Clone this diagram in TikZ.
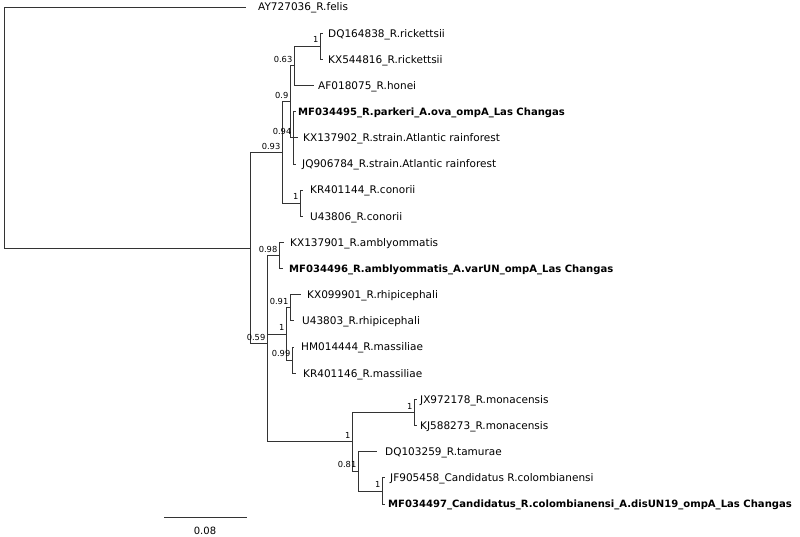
\documentclass[tikz,border=0pt]{standalone}
\usepackage{fontspec}
\setmainfont{DejaVu Sans}
\begin{document}
\begin{tikzpicture}[x=1pt,y=-1pt,
  br/.style={line width=1pt, draw=black!80, line cap=rect},
  tiplab/.style={anchor=base west, inner sep=0pt, yshift=-3.8pt, font=\fontsize{10.5}{12}\selectfont},
  tipbold/.style={tiplab, font=\fontsize{10.05}{12}\selectfont\bfseries},
  supp/.style={anchor=base east, inner sep=0pt, xshift=-1.5pt, yshift=3.5pt, font=\fontsize{8.3}{9}\selectfont}]
\useasboundingbox (0,0) rectangle (800,536);
% internal nodes
\coordinate (root) at (4,127.6);
\coordinate (nA) at (250,248.1);
\coordinate (n093) at (282,152.5);
\coordinate (n09) at (290,101.8);
\coordinate (n063) at (294,65.9);
\coordinate (nric) at (320,46.25);
\coordinate (n094) at (293,137.8);
\coordinate (ncon) at (300,203.2);
\coordinate (n059) at (267,343.8);
\coordinate (n098) at (279,255.5);
\coordinate (nrm) at (286,334);
\coordinate (n091) at (290,307.85);
\coordinate (n099) at (292,360.15);
\coordinate (nbig) at (352,441.9);
\coordinate (nmon) at (414,412.5);
\coordinate (n081) at (358,471.3);
\coordinate (ncol) at (382,491);
% tips
\coordinate (t1) at (245,7);
\coordinate (t2) at (322,33.2);
\coordinate (t3) at (322,59.3);
\coordinate (t4) at (313,85.5);
\coordinate (t5) at (295,111.6);
\coordinate (t6) at (297,137.8);
\coordinate (t7) at (295,164);
\coordinate (t8) at (302,190.1);
\coordinate (t9) at (302,216.3);
\coordinate (t10) at (283,242.4);
\coordinate (t11) at (282,268.6);
\coordinate (t12) at (300,294.8);
\coordinate (t13) at (293,320.9);
\coordinate (t14) at (293,347.1);
\coordinate (t15) at (295,373.2);
\coordinate (t16) at (416,399.4);
\coordinate (t17) at (416,425.6);
\coordinate (t18) at (376,451.7);
\coordinate (t19) at (384,477.9);
\coordinate (t20) at (384,504);
% branches
\draw[br] (root) |- (t1);
\draw[br] (root) |- (nA);
\draw[br] (nA) |- (n093);
\draw[br] (nA) |- (n059);
\draw[br] (n093) |- (n09);
\draw[br] (n093) |- (ncon);
\draw[br] (n09) |- (n063);
\draw[br] (n09) |- (n094);
\draw[br] (n063) |- (nric);
\draw[br] (n063) |- (t4);
\draw[br] (nric) |- (t2);
\draw[br] (nric) |- (t3);
\draw[br] (n094) |- (t5);
\draw[br] (n094) |- (t6);
\draw[br] (n094) |- (t7);
\draw[br] (ncon) |- (t8);
\draw[br] (ncon) |- (t9);
\draw[br] (n059) |- (n098);
\draw[br] (n059) |- (nrm);
\draw[br] (n059) |- (nbig);
\draw[br] (n098) |- (t10);
\draw[br] (n098) |- (t11);
\draw[br] (nrm) |- (n091);
\draw[br] (nrm) |- (n099);
\draw[br] (n091) |- (t12);
\draw[br] (n091) |- (t13);
\draw[br] (n099) |- (t14);
\draw[br] (n099) |- (t15);
\draw[br] (nbig) |- (nmon);
\draw[br] (nbig) |- (n081);
\draw[br] (nmon) |- (t16);
\draw[br] (nmon) |- (t17);
\draw[br] (n081) |- (t18);
\draw[br] (n081) |- (ncol);
\draw[br] (ncol) |- (t19);
\draw[br] (ncol) |- (t20);
% tip labels
\node[tiplab] (L1) at (258,7) {AY727036\_R.felis};
\node[tiplab] (L2) at (328,33.2) {DQ164838\_R.rickettsii};
\node[tiplab] (L3) at (328,59.3) {KX544816\_R.rickettsii};
\node[tiplab] (L4) at (318,85.5) {AF018075\_R.honei};
\node[tipbold] (L5) at (298,111.6) {MF034495\_R.parkeri\_A.ova\_ompA\_Las Changas};
\node[tiplab] (L6) at (303,137.8) {KX137902\_R.strain.Atlantic rainforest};
\node[tiplab] (L7) at (302,164) {JQ906784\_R.strain.Atlantic rainforest};
\node[tiplab] (L8) at (310,190.1) {KR401144\_R.conorii};
\node[tiplab] (L9) at (310,216.3) {U43806\_R.conorii};
\node[tiplab] (L10) at (290,242.4) {KX137901\_R.amblyommatis};
\node[tipbold] (L11) at (289,268.6) {MF034496\_R.amblyommatis\_A.varUN\_ompA\_Las Changas};
\node[tiplab] (L12) at (307,294.8) {KX099901\_R.rhipicephali};
\node[tiplab] (L13) at (302,320.9) {U43803\_R.rhipicephali};
\node[tiplab] (L14) at (301,347.1) {HM014444\_R.massiliae};
\node[tiplab] (L15) at (303,373.2) {KR401146\_R.massiliae};
\node[tiplab] (L16) at (420,399.4) {JX972178\_R.monacensis};
\node[tiplab] (L17) at (420,425.6) {KJ588273\_R.monacensis};
\node[tiplab] (L18) at (385,451.7) {DQ103259\_R.tamurae};
\node[tiplab] (L19) at (390,477.9) {JF905458\_Candidatus R.colombianensi};
\node[tipbold] (L20) at (388,504) {MF034497\_Candidatus\_R.colombianensi\_A.disUN19\_ompA\_Las Changas};
% support values
\node[supp] (S1) at (nric) {1};
\node[supp] (S2) at (n063) {0.63};
\node[supp] (S3) at (n09) {0.9};
\node[supp] (S4) at (n094) {0.94};
\node[supp] (S5) at (n093) {0.93};
\node[supp] (S6) at (ncon) {1};
\node[supp] (S7) at (n098) {0.98};
\node[supp] (S8) at (n091) {0.91};
\node[supp] (S9) at (nrm) {1};
\node[supp] (S10) at (n099) {0.99};
\node[supp] (S11) at (n059) {0.59};
\node[supp] (S12) at (nbig) {1};
\node[supp] (S13) at (nmon) {1};
\node[supp] (S14) at (n081) {0.81};
\node[supp] (S15) at (ncol) {1};
% scale bar
\coordinate (sb1) at (164,517);
\coordinate (sb2) at (246,517);
\draw[br] (sb1) -- (sb2);
\node[anchor=base, inner sep=0pt, font=\fontsize{10}{12}\selectfont] (SBL) at (205,534) {0.08};
\end{tikzpicture}
\end{document}
